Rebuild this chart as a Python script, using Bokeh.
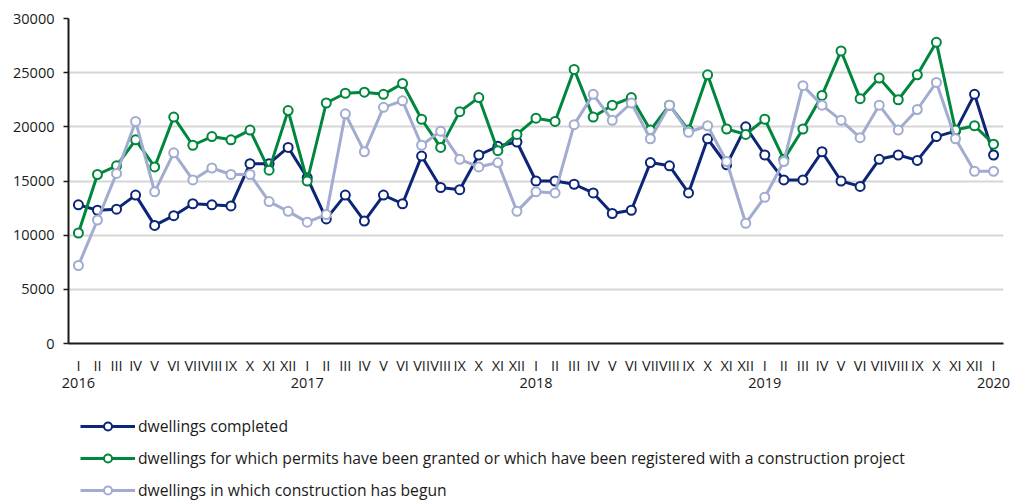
from bokeh.plotting import figure
from bokeh.layouts import column
from bokeh.models import LinearAxis, FixedTicker, Legend, LegendItem, ColumnDataSource
from bokeh.embed import file_html
from bokeh.resources import INLINE

roman = ["I", "II", "III", "IV", "V", "VI", "VII", "VIII", "IX", "X", "XI", "XII"]
month_labels = roman * 4 + ["I"]
year_labels = ["2016", "2017", "2018", "2019", "2020"]

completed = [12800, 12300, 12400, 13700, 10900, 11800, 12900, 12800, 12700, 16600, 16600, 18100,
             15300, 11500, 13700, 11300, 13700, 12900, 17300, 14400, 14200, 17400, 18200, 18600,
             15000, 15000, 14700, 13900, 12000, 12300, 16700, 16400, 13900, 18900, 16500, 20000,
             17400, 15100, 15100, 17700, 15000, 14500, 17000, 17400, 16900, 19100, 19600, 23000,
             17400]
permits = [10200, 15600, 16400, 18800, 16300, 20900, 18300, 19100, 18800, 19700, 16000, 21500,
           15000, 22200, 23100, 23200, 23000, 24000, 20700, 18100, 21400, 22700, 17800, 19300,
           20800, 20500, 25300, 20900, 22000, 22700, 19700, 22000, 19700, 24800, 19800, 19300,
           20700, 17000, 19800, 22900, 27000, 22600, 24500, 22500, 24800, 27800, 19700, 20100,
           18400]
started = [7200, 11400, 15700, 20500, 14000, 17600, 15100, 16200, 15600, 15600, 13100, 12200,
           11200, 11900, 21200, 17700, 21800, 22400, 18300, 19600, 17000, 16300, 16700, 12200,
           14000, 13900, 20200, 23000, 20600, 22200, 18900, 22000, 19500, 20100, 16800, 11100,
           13500, 16800, 23800, 22000, 20600, 19000, 22000, 19700, 21600, 24100, 18900, 15900,
           15900]

series_names = ["dwellings completed",
                "dwellings for which permits have been granted or which have been registered with a construction project",
                "dwellings in which construction has begun"]
colors = ["#0c2577", "#00873d", "#a2abd0"]

n = len(month_labels)
x = list(range(n))

FONT = "Open Sans"
TXT = "#1a1a1a"

p = figure(frame_width=935, frame_height=325, output_backend="svg", toolbar_location=None,
           x_range=(-0.52, n - 1 + 0.52), y_range=(0, 30000))
p.min_border_left = 68
p.min_border_right = 8
p.min_border_top = 18
p.min_border_bottom = 0
p.outline_line_color = None

# y axis
p.yaxis.ticker = FixedTicker(ticks=[0, 5000, 10000, 15000, 20000, 25000, 30000])
p.yaxis.formatter.use_scientific = False
p.yaxis.axis_line_color = TXT
p.yaxis.axis_line_width = 2
p.yaxis.major_tick_line_color = TXT
p.yaxis.major_tick_line_width = 1.5
p.yaxis.major_tick_in = 0
p.yaxis.major_tick_out = 5
p.yaxis.minor_tick_line_color = None
p.yaxis.major_label_text_font = FONT
p.yaxis.major_label_text_font_size = "14.5px"
p.yaxis.major_label_text_color = TXT
p.yaxis.major_label_standoff = 9

p.ygrid.grid_line_color = "#d6d6d6"
p.ygrid.grid_line_width = 2
p.xgrid.grid_line_color = None

# x axis (months)
xa = p.xaxis[0]
xa.ticker = FixedTicker(ticks=x)
xa.major_label_overrides = {i: lab for i, lab in enumerate(month_labels)}
xa.axis_line_color = TXT
xa.axis_line_width = 2
xa.major_tick_line_color = None
xa.minor_tick_line_color = None
xa.major_label_text_font = FONT
xa.major_label_text_font_size = "14.5px"
xa.major_label_text_color = TXT
xa.major_label_standoff = 6

# year axis
year_ticks = [0, 12, 24, 36, 48]
ya = LinearAxis(ticker=FixedTicker(ticks=year_ticks),
                major_label_overrides={t: y for t, y in zip(year_ticks, year_labels)})
ya.axis_line_color = None
ya.major_tick_line_color = None
ya.minor_tick_line_color = None
ya.major_label_text_font = FONT
ya.major_label_text_font_size = "14.5px"
ya.major_label_text_color = TXT
ya.major_label_standoff = -6
p.add_layout(ya, "below")

# legend figure (series drawn outside its visible range; only the legend shows)
lg = figure(width=1011, height=110, output_backend="svg", toolbar_location=None,
            x_range=(-200, -199), y_range=(0, 30000),
            x_axis_location=None, y_axis_location=None)
lg.grid.visible = False
lg.outline_line_color = None
lg.min_border_left = 0
lg.min_border_right = 0
lg.min_border_top = 0
lg.min_border_bottom = 0

for fig in (p, lg):
    items = []
    for name, vals, col in zip(series_names, [completed, permits, started], colors):
        src = ColumnDataSource(dict(x=x, y=vals))
        l = fig.line("x", "y", source=src, line_color=col, line_width=3)
        s = fig.scatter("x", "y", source=src, size=9, marker="circle", fill_color="white",
                        line_color=col, line_width=2)
        items.append(LegendItem(label=name, renderers=[l, s]))
    if fig is lg:
        legend = Legend(items=items, orientation="vertical", location=(12, -1))
        legend.glyph_width = 55
        legend.glyph_height = 20
        legend.label_height = 20
        legend.spacing = 10
        legend.padding = 0
        legend.margin = 0
        legend.border_line_color = None
        legend.background_fill_alpha = 0
        legend.label_text_font = FONT
        legend.label_text_font_size = "15.7px"
        legend.label_text_color = TXT
        legend.label_standoff = 3
        fig.add_layout(legend, "center")

layout = column(p, lg, spacing=0)
open("out.html", "w").write(file_html(layout, INLINE))
